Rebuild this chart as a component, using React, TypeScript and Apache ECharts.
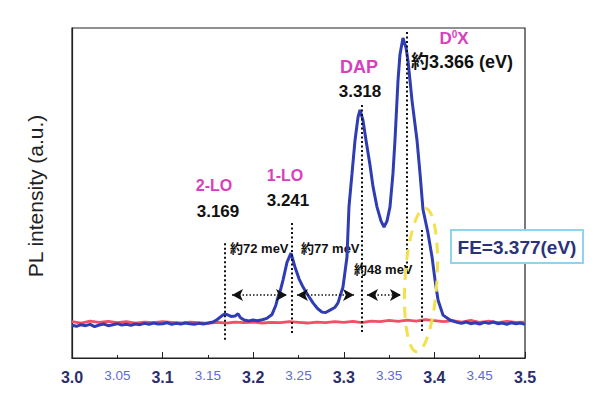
import React, { useEffect, useRef } from "react";
import * as echarts from "echarts";

const xTicks = [3.0, 3.05, 3.1, 3.15, 3.2, 3.25, 3.3, 3.35, 3.4, 3.45, 3.5];

const blueSeries: [number, number][] = [
  [3.0, 9.9], [3.005, 9.6], [3.01, 10.1], [3.015, 9.8], [3.02, 10.2], [3.025, 9.5],
  [3.03, 10.0], [3.035, 10.3], [3.04, 9.8], [3.045, 10.1], [3.05, 10.4], [3.055, 10.0],
  [3.06, 10.2], [3.065, 9.9], [3.07, 10.3], [3.075, 10.1], [3.08, 10.5], [3.085, 10.2],
  [3.09, 10.6], [3.095, 10.3], [3.1, 10.4], [3.105, 10.7], [3.11, 10.2], [3.115, 10.5],
  [3.12, 10.3], [3.125, 10.6], [3.13, 10.4], [3.135, 10.2], [3.14, 10.5], [3.145, 10.3],
  [3.15, 10.6], [3.1556, 10.9], [3.16, 11.6], [3.165, 12.7], [3.1689, 13.4], [3.1725, 13.0],
  [3.1755, 12.6], [3.18, 12.7], [3.1832, 13.4], [3.186, 12.2], [3.19, 11.5], [3.195, 11.2],
  [3.2, 11.5], [3.205, 11.3], [3.21, 11.6], [3.215, 12.0], [3.2208, 13.2], [3.225, 16],
  [3.2274, 18.5], [3.23, 20.5], [3.2329, 23.6], [3.2373, 29], [3.2417, 31.8], [3.2461, 27.6],
  [3.2506, 24], [3.255, 21.5], [3.2605, 19], [3.266, 16.7], [3.271, 15], [3.2759, 13.9],
  [3.28, 13.8], [3.2848, 14.5], [3.29, 15.3], [3.2936, 16.7], [3.2991, 21.5], [3.3035, 30.6],
  [3.3057, 45.8], [3.3091, 56], [3.3124, 66], [3.3157, 73], [3.3179, 75.2], [3.3212, 72],
  [3.3245, 66], [3.3289, 58.5], [3.3322, 52], [3.3366, 45.8], [3.3411, 41.5], [3.3444, 39.7],
  [3.3477, 41.5], [3.351, 45.8], [3.3543, 56], [3.3565, 66], [3.3598, 84], [3.362, 92],
  [3.3653, 97], [3.3687, 94], [3.3709, 90], [3.3753, 78], [3.3808, 66], [3.3841, 56],
  [3.3874, 45], [3.3929, 37.9], [3.3974, 30.6], [3.4007, 23.6], [3.404, 17.6], [3.4095, 13],
  [3.4172, 11.5], [3.425, 10.8], [3.43, 10.5], [3.435, 10.9], [3.44, 10.4], [3.445, 10.7],
  [3.45, 10.3], [3.455, 10.8], [3.46, 10.5], [3.465, 10.9], [3.47, 10.4], [3.475, 10.6],
  [3.48, 10.2], [3.485, 10.7], [3.49, 10.4], [3.495, 10.6], [3.5, 10.2],
];

const redSeries: [number, number][] = [
  [3.0, 11.0], [3.01, 10.6], [3.02, 11.2], [3.03, 10.8], [3.04, 11.1], [3.05, 10.7],
  [3.06, 11.0], [3.07, 10.6], [3.08, 10.9], [3.09, 10.7], [3.1, 11.0], [3.11, 10.8],
  [3.12, 10.6], [3.13, 10.9], [3.14, 10.7], [3.15, 10.5], [3.16, 10.8], [3.17, 10.6],
  [3.18, 10.9], [3.19, 10.7], [3.2, 10.9], [3.21, 10.6], [3.22, 10.8], [3.23, 10.7],
  [3.24, 11.0], [3.25, 10.8], [3.26, 10.6], [3.27, 10.9], [3.28, 10.7], [3.29, 11.0],
  [3.3, 10.8], [3.31, 11.1], [3.32, 10.7], [3.33, 11.2], [3.34, 11.0], [3.35, 11.4],
  [3.36, 11.1], [3.37, 11.5], [3.38, 11.2], [3.39, 11.6], [3.4, 11.3], [3.41, 11.0],
  [3.42, 11.3], [3.43, 10.9], [3.44, 11.4], [3.45, 10.8], [3.46, 11.2], [3.47, 10.7],
  [3.48, 11.1], [3.49, 10.8], [3.5, 10.9],
];

// vertical dotted guide lines: [x, yTop, yBottom]
const guideLines: [number, number, number][] = [
  [3.169, 34.8, 5.5],
  [3.242, 40.9, 7.6],
  [3.32, 76.7, 7.9],
  [3.369, 98.8, 26.5],
  [3.386, 38.8, 7.9],
];

// double-headed arrows: [xStart, xEnd, y]
const arrows: [number, number, number][] = [
  [3.1766, 3.2373, 19.1],
  [3.2483, 3.3113, 19.1],
  [3.3256, 3.3631, 19.1],
];

const peakLabels = ["2-LO", "1-LO", "DAP"];
const peakValues = ["3.169", "3.241", "3.318"];
const gapLabels = ["約72 meV", "約77 meV", "約48 meV"];

const FONT = "'Liberation Sans', Arial, 'Noto Sans CJK JP', sans-serif";

export default function App() {
  const ref = useRef<HTMLDivElement>(null);
  useEffect(() => {
    if (!ref.current) return;
    const chart = echarts.init(ref.current, undefined, { renderer: "svg" });
    const magenta = "#d83fbe";
    const option: any = {
      animation: false,
      backgroundColor: "#ffffff",
      grid: {
        left: 72, right: 69, top: 28, bottom: 37,
        show: true, borderColor: "#222", borderWidth: 1.2,
      },
      xAxis: [
        {
          type: "value", min: 3.0, max: 3.5, interval: 0.05,
          axisLine: { show: true, lineStyle: { color: "#222", width: 1.2 } },
          axisTick: { show: true, inside: true, length: 3, lineStyle: { color: "#222" } },
          splitLine: { show: false },
          axisLabel: {
            margin: 11,
            formatter: (v: number) => {
              const r = Math.round(v * 100);
              if (r % 10 === 0) return "{a|" + (r / 100).toFixed(1) + "}";
              return "{b|" + (r / 100).toFixed(2) + "}";
            },
            rich: {
              a: { fontFamily: FONT, fontSize: 16, fontWeight: "bold", color: "#2b2e6c" },
              b: { fontFamily: FONT, fontSize: 13.5, color: "#5e6ccc" },
            },
          },
        },
        {
          type: "value", min: 3.0, max: 3.5, interval: 0.1, position: "bottom",
          axisLine: { show: false },
          axisTick: { show: true, inside: true, length: 6, lineStyle: { color: "#222" } },
          axisLabel: { show: false },
          splitLine: { show: false },
        },
      ],
      yAxis: {
        type: "value", min: 0, max: 100,
        axisLine: { show: true, lineStyle: { color: "#222", width: 1.2 } },
        axisTick: { show: false },
        axisLabel: { show: false },
        splitLine: { show: false },
      },
      series: [
        {
          type: "line", data: redSeries, showSymbol: false, symbol: "none",
          lineStyle: { color: "#f04f66", width: 2.8 }, z: 2,
        },
        {
          type: "line", data: blueSeries, showSymbol: false, symbol: "none",
          lineStyle: { color: "#2e3db3", width: 3 }, z: 3,
        },
        {
          type: "line", data: [], symbol: "none", z: 4,
          markLine: {
            silent: true, symbol: ["none", "none"], label: { show: false },
            lineStyle: { color: "#111", type: [2, 2.5], width: 2 },
            data: guideLines.map(([x, y1, y2]) => [
              { coord: [x, y1] }, { coord: [x, y2] },
            ]),
          },
        },
        {
          type: "line", data: [], symbol: "none", z: 4,
          markLine: {
            silent: true, symbol: ["arrow", "arrow"], symbolSize: [9, 11],
            label: { show: false },
            lineStyle: { color: "#111", type: [1.5, 2], width: 1.5 },
            data: arrows.map(([x1, x2, y]) => [
              { coord: [x1, y] }, { coord: [x2, y] },
            ]),
          },
        },
      ],
      graphic: [
        {
          type: "text", x: 35, y: 196, rotation: Math.PI / 2,
          style: {
            text: "PL intensity (a.u.)", fontFamily: FONT, fontSize: 21,
            fill: "#222", align: "center", verticalAlign: "middle",
          },
        },
        {
          type: "text", x: 214, y: 185,
          style: { text: peakLabels[0], fontFamily: FONT, fontSize: 16, fontWeight: "bold", fill: magenta, align: "center", verticalAlign: "middle" },
        },
        {
          type: "text", x: 218, y: 211,
          style: { text: peakValues[0], fontFamily: FONT, fontSize: 17, fontWeight: "bold", fill: "#111", align: "center", verticalAlign: "middle" },
        },
        {
          type: "text", x: 285, y: 175,
          style: { text: peakLabels[1], fontFamily: FONT, fontSize: 16, fontWeight: "bold", fill: magenta, align: "center", verticalAlign: "middle" },
        },
        {
          type: "text", x: 288, y: 200,
          style: { text: peakValues[1], fontFamily: FONT, fontSize: 17, fontWeight: "bold", fill: "#111", align: "center", verticalAlign: "middle" },
        },
        {
          type: "text", x: 359, y: 67,
          style: { text: peakLabels[2], fontFamily: FONT, fontSize: 18, fontWeight: "bold", fill: magenta, align: "center", verticalAlign: "middle" },
        },
        {
          type: "text", x: 360, y: 91,
          style: { text: peakValues[2], fontFamily: FONT, fontSize: 17, fontWeight: "bold", fill: "#111", align: "center", verticalAlign: "middle" },
        },
        {
          type: "text", x: 454, y: 38,
          style: {
            text: "{m|D}{s|0}{m|X}", align: "center", verticalAlign: "middle", fill: magenta,
            rich: {
              m: { fontFamily: FONT, fontSize: 17, fontWeight: "bold", fill: magenta },
              s: { fontFamily: FONT, fontSize: 10, fontWeight: "bold", fill: magenta, verticalAlign: "top", padding: [0, 0, 8, 0] },
            },
          },
        },
        {
          type: "text", x: 411, y: 62,
          style: { text: "約3.366 (eV)", fontFamily: FONT, fontSize: 18, fontWeight: "bold", fill: "#111", align: "left", verticalAlign: "middle" },
        },
        {
          type: "text", x: 230, y: 248,
          style: { text: gapLabels[0], fontFamily: FONT, fontSize: 13, fontWeight: "bold", fill: "#111", align: "left", verticalAlign: "middle" },
        },
        {
          type: "text", x: 301, y: 248,
          style: { text: gapLabels[1], fontFamily: FONT, fontSize: 13, fontWeight: "bold", fill: "#111", align: "left", verticalAlign: "middle" },
        },
        {
          type: "text", x: 354, y: 269,
          style: { text: gapLabels[2], fontFamily: FONT, fontSize: 13, fontWeight: "bold", fill: "#111", align: "left", verticalAlign: "middle" },
        },
        {
          type: "ellipse", x: 421, y: 280, rotation: -0.06, z: 10,
          shape: { cx: 0, cy: 0, rx: 16, ry: 72 },
          style: { fill: "none", stroke: "#f4e04c", lineWidth: 3, lineDash: [11, 8] },
        },
        {
          type: "rect", x: 451, y: 230, z: 10,
          shape: { x: 0, y: 0, width: 132, height: 33 },
          style: { fill: "#ffffff", stroke: "#8fd4ea", lineWidth: 2 },
        },
        {
          type: "text", x: 517, y: 247, z: 11,
          style: { text: "FE=3.377(eV)", fontFamily: FONT, fontSize: 19, fontWeight: "bold", fill: "#2a3278", align: "center", verticalAlign: "middle" },
        },
      ],
    };
    chart.setOption(option);
    return () => chart.dispose();
  }, []);
  return <div ref={ref} style={{ width: 594, height: 395, position: "absolute", left: 0, top: 0 }} />;
}
